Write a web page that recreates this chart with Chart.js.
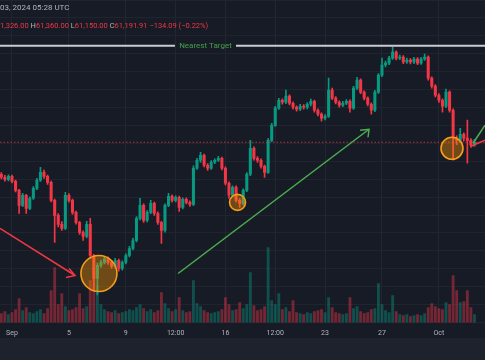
<!DOCTYPE html>
<html>
<head>
<meta charset="utf-8">
<script src="https://cdn.jsdelivr.net/npm/chart.js@4.4.1/dist/chart.umd.min.js"></script>
<style>
  html, body { margin: 0; padding: 0; background: #171b26; width: 485px; height: 360px; overflow: hidden; font-family: Roboto, "Noto Sans", sans-serif; }
  #wrap { position: relative; width: 485px; height: 360px; }
  #chart { position: absolute; left: 0; top: 0; }
  #footer { position: absolute; left: 0; top: 338px; width: 485px; height: 22px; background: #1e222d; }
  .hdr { position: absolute; left: 0; white-space: nowrap; color: #b2b5be; }
  #hdr1 { top: 3px; font-size: 8px; }
  #hdr2 { top: 21px; font-size: 7.5px; }
  .red { color: #f23645; }
</style>
</head>
<body>
<div id="wrap">
  <canvas id="chart" width="485" height="343"></canvas>
  <div id="hdr1" class="hdr">03, 2024 05:28 UTC</div>
  <div id="hdr2" class="hdr"><span class="red">1,326.00</span> H<span class="red">61,360.00</span> L<span class="red">61,150.00</span> C<span class="red">61,191.91</span> <span class="red">−134.09 (−0.22%)</span></div>
  <div id="footer"></div>
</div>
<script>
// BTC/USD, 6h candles, time in days since Sep 1 2024 00:00 UTC
const firstCandleDay = -0.75;
const candleStepDays = 0.25;
const firstOpen = 59380;

const closes = [
  59210, 59090, 59260, 58980, 58470, 57620, 58190, 57450, 58020, 58580,
  59040, 59490, 59260, 58920, 57900, 57050, 56540, 56310, 58190, 57900,
  57220, 56650, 56090, 55860, 56540, 54780, 53480, 54220, 54390, 54610,
  54390, 54160, 54500, 54050, 54390, 54780, 55180, 55630, 56880, 57620,
  56770, 57220, 57730, 57160, 56650, 56200, 57620, 58130, 57900, 58070,
  57500, 57960, 57790, 57670, 59720, 60170, 60450, 59890, 59720, 60060,
  60170, 60280, 59720, 58870, 58190, 58640, 57900, 57730, 58470, 59380,
  60850, 60280, 60170, 59830, 59490, 61300, 62150, 63120, 63570, 63460,
  63800, 63400, 63170, 63060, 63230, 63170, 63340, 63510, 63000, 62780,
  62550, 62660, 64140, 63690, 63460, 63290, 63400, 63510, 63120, 64250,
  64710, 64030, 63690, 63340, 63000, 64030, 64990, 65560, 65670, 65950,
  66290, 65950, 66010, 65730, 65840, 65730, 65900, 65670, 65900, 66010,
  64820, 64370, 63850, 63570, 63230, 64030, 63000, 61420, 61300, 61640,
  61420, 61300, 61020, 61191.91
];
const highs = [
  59480, 59320, 59350, 59330, 59050, 58520, 58300, 58250, 58100, 58680,
  59150, 59770, 59620, 59330, 58990, 57980, 57150, 56700, 58360, 58280,
  57980, 57300, 56720, 56180, 56710, 56880, 54850, 54350, 54520, 54750,
  54700, 54480, 54620, 54580, 54480, 54880, 55300, 55750, 56990, 58010,
  57700, 57330, 57900, 57800, 57250, 56720, 57700, 58300, 58220, 58160,
  58150, 58050, 58050, 57880, 59850, 60280, 60620, 60520, 59990, 60150,
  60250, 60400, 60350, 59800, 58950, 58720, 58720, 58000, 58560, 59480,
  61300, 60930, 60380, 60250, 59900, 61400, 62260, 63220, 63680, 63650,
  64140, 63880, 63480, 63250, 63330, 63320, 63440, 63630, 63580, 63080,
  62860, 62760, 64820, 64250, 63780, 63540, 63500, 63610, 63590, 64360,
  64870, 64780, 64100, 63760, 63420, 64130, 65080, 65950, 65780, 66060,
  66580, 66370, 66120, 66090, 65950, 65920, 66000, 65980, 66000, 66180,
  66080, 64900, 64450, 63950, 63650, 64200, 64100, 63080, 61550, 61980,
  61720, 62440, 61400, 61360
];
const lows = [
  59120, 58990, 59000, 58890, 58380, 57160, 57540, 57160, 57380, 57950,
  58500, 58980, 59150, 58800, 57810, 55520, 56400, 56200, 56250, 57800,
  57100, 56550, 55980, 55630, 55780, 54600, 52800, 52550, 54100, 54300,
  54280, 54050, 54080, 53900, 53950, 54300, 54700, 55100, 55550, 56800,
  56650, 56680, 57150, 57050, 56540, 55460, 56100, 57550, 57800, 57820,
  57280, 57420, 57700, 57560, 57600, 59650, 60050, 59800, 59600, 59650,
  59980, 60100, 59620, 58780, 58010, 58100, 57820, 57500, 57650, 58400,
  59300, 60180, 60050, 59720, 59200, 59420, 61220, 62080, 63050, 63350,
  63380, 63300, 63060, 62950, 62980, 63060, 63080, 63250, 62900, 62680,
  62380, 62460, 62600, 63600, 63360, 63180, 63200, 63320, 62890, 63050,
  64170, 63940, 63580, 63240, 62780, 62920, 63950, 64900, 65450, 65580,
  65880, 65850, 65870, 65640, 65650, 65620, 65640, 65580, 65600, 65820,
  64700, 64250, 63750, 63450, 62890, 63150, 62900, 60170, 61050, 61200,
  61250, 60000, 60900, 60950
];
const volumes = [
  900, 1100, 800, 1000, 1300, 2400, 1200, 1500, 1000, 900,
  1100, 1300, 900, 1400, 3200, 5500, 1800, 2900, 1600, 1200,
  1300, 1500, 2900, 1400, 1600, 4200, 5500, 3700, 1800, 1300,
  1100, 1000, 1200, 900, 1000, 1100, 1300, 1200, 1500, 1800,
  1400, 1100, 1300, 1000, 1200, 3000, 1900, 1400, 1100, 1300,
  2500, 1200, 1000, 1100, 4200, 1900, 1600, 1200, 1000, 900,
  1000, 1100, 1300, 2500, 1800, 1200, 1300, 2000, 1400, 1800,
  5000, 1700, 1200, 1300, 1600, 7500, 2200, 1800, 2900, 1300,
  1500, 1100, 2200, 1000, 900, 800, 1000, 900, 1100, 1200,
  1300, 1000, 2500, 1500, 1000, 900, 800, 900, 2500, 1400,
  1600, 1100, 900, 1000, 1300, 1400, 3900, 1800, 1200, 1000,
  2700, 1100, 800, 700, 800, 600, 700, 800, 700, 900,
  1500, 1900, 1600, 1400, 1300, 2000, 1800, 4700, 3200, 2000,
  2100, 3200, 1500, 800
];

const tickDays = [0, 4, 8, 11.5, 15, 18.5, 22, 26, 30];
const tickLabels = ['Sep', '5', '9', '12:00', '16', '12:00', '23', '27', 'Oct'];

// visible window (days) and price range
const viewStart = -0.843, viewEnd = 33.24;
const priceMin = 50984, priceMax = 69241;
const volumeMax = 32200;

// drawings
const lastPrice = 61191.91;
const targetPrice = 66650;
const targetGap = [11.45, 15.74];
const redArrow = [[viewStart, 56313], [4.43, 53649]];
const redArrowHead = [[4.01, 54046], [4.43, 53649], [3.79, 53535]];
const greenArrow = [[11.67, 53762], [25.09, 61927]];
const greenArrowHead = [[24.46, 61870], [25.09, 61927], [25.02, 61473]];
const greenRight = [[32.4, 61133], [viewEnd, 62154]];
const redRight = [[32.26, 60963], [viewEnd, 61303]];
const circles = [[6.11, 53762, 18], [15.85, 57788, 8], [30.92, 60849, 11]];

const upColor = '#089981', downColor = '#f23645';

const xs = closes.map((_, i) => firstCandleDay + i * candleStepDays);
const opens = closes.map((c, i) => i === 0 ? firstOpen : closes[i - 1]);
const candleColors = closes.map((c, i) => c >= opens[i] ? upColor : downColor);
const volColors = closes.map((c, i) => c >= opens[i] ? 'rgba(8,153,129,0.42)' : 'rgba(242,54,69,0.42)');

const pts = arr => arr.map(([x, y]) => ({x, y}));

function lineDs(data, color, extra) {
    return Object.assign({
        type: 'line', data, borderColor: color, borderWidth: 1.5,
        pointRadius: 0, tension: 0, fill: false, order: 1
    }, extra || {});
}

const targetLabel = {
    id: 'targetLabel',
    afterDatasetsDraw(chart) {
        const {ctx, scales: {x, y}} = chart;
        ctx.save();
        ctx.font = '8px Roboto, "Noto Sans", sans-serif';
        ctx.fillStyle = '#43a047';
        ctx.textAlign = 'center';
        ctx.textBaseline = 'middle';
        ctx.fillText('Nearest Target', x.getPixelForValue((targetGap[0] + targetGap[1]) / 2), y.getPixelForValue(targetPrice));
        ctx.restore();
    }
};

new Chart(document.getElementById('chart'), {
    type: 'bar',
    data: {
        datasets: [
            {
                label: 'Volume', yAxisID: 'yv', order: 6, grouped: false,
                data: xs.map((x, i) => ({x, y: volumes[i]})),
                backgroundColor: volColors, barThickness: 2.2
            },
            {
                label: 'Wicks', order: 5, grouped: false,
                data: xs.map((x, i) => ({x, y: [lows[i], highs[i]]})),
                backgroundColor: candleColors, barThickness: 1
            },
            {
                label: 'Bodies', order: 4, grouped: false, minBarLength: 1,
                data: xs.map((x, i) => ({x, y: [opens[i], closes[i]]})),
                backgroundColor: candleColors, barThickness: 2.4
            },
            lineDs([{x: viewStart, y: lastPrice}, {x: viewEnd, y: lastPrice}], 'rgba(242,54,69,0.75)', {borderWidth: 1, borderDash: [1.5, 2], order: 3}),
            lineDs([{x: viewStart, y: targetPrice}, {x: targetGap[0], y: targetPrice}, {x: (targetGap[0] + targetGap[1]) / 2, y: null},
                    {x: targetGap[1], y: targetPrice}, {x: viewEnd, y: targetPrice}], '#c9cbd1', {borderWidth: 2, spanGaps: false, order: 3}),
            {
                type: 'bubble', order: 2,
                data: circles.map(([x, y, r]) => ({x, y, r})),
                backgroundColor: 'rgba(255,152,0,0.38)', borderColor: '#f59d1a', borderWidth: 1.6
            },
            lineDs(pts(redArrow), downColor),
            lineDs(pts(redArrowHead), downColor),
            lineDs(pts(greenArrow), '#4caf50'),
            lineDs(pts(greenArrowHead), '#4caf50'),
            lineDs(pts(greenRight), '#4caf50'),
            lineDs(pts(redRight), downColor)
        ]
    },
    options: {
        responsive: false,
        animation: false,
        devicePixelRatio: 1,
        layout: {padding: 0, autoPadding: false},
        plugins: {legend: {display: false}, tooltip: {enabled: false}},
        scales: {
            x: {
                type: 'linear', min: viewStart, max: viewEnd, offset: false,
                afterBuildTicks: s => { s.ticks = tickDays.map(v => ({value: v})); },
                ticks: {
                    callback: v => tickLabels[tickDays.indexOf(v)],
                    color: '#b2b5be', font: {size: 7, family: 'Roboto, "Noto Sans", sans-serif'},
                    padding: 6, maxRotation: 0, autoSkip: false
                },
                grid: {color: '#222633', drawTicks: false, offset: false},
                border: {display: false}
            },
            y: {
                min: priceMin, max: priceMax, beginAtZero: false,
                ticks: {display: false, stepSize: 1000},
                grid: {color: '#20242f', drawTicks: false},
                border: {display: false}
            },
            yv: {display: false, min: 0, max: volumeMax}
        }
    },
    plugins: [targetLabel]
});
</script>
</body>
</html>
